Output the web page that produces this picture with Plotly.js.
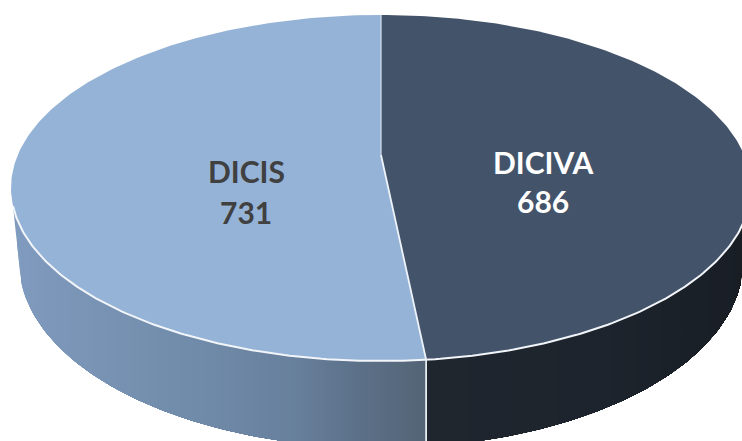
<!DOCTYPE html>
<html>
<head>
<meta charset="utf-8">
<script src="https://cdn.plot.ly/plotly-3.0.1.min.js"></script>
<style>html,body{margin:0;padding:0;background:#fff;overflow:hidden}#chart{width:742px;height:441px}</style>
</head>
<body>
<div id="chart"></div>
<script>
const categories = ["DICIVA", "DICIS"];
const values = [686, 731];
const faceColors = ["#43536A", "#95B3D7"];
const labelColors = ["#FFFFFF", "#404040"];
const labelX = [543, 246];
const labelY = [[162, 201], [171, 212]];
// side shading stops: [screen x, [r,g,b]]
const sideStops = [
  [[426,[32,38,46]],[600,[29,36,45]],[745,[25,30,37]]],
  [[10,[128,156,192]],[50,[124,151,185]],[200,[112,139,169]],[300,[103,127,155]],[360,[92,112,136]],[426,[84,100,118]]]
];

// projection of the disc
const top_ = {cx:381, cy:188, rx:370, ry:173};
const low_ = {cx:381, cy:262, rx:362, ry:186};
const pivot = {x:381, y:155, rayRy:168};
const rad = d => d*Math.PI/180;
const onEll = (e,phi) => [e.cx+e.rx*Math.sin(rad(phi)), e.cy-e.ry*Math.cos(rad(phi))];
const frontY = (e,x) => { const u=(x-e.cx)/e.rx; return e.cy+e.ry*Math.sqrt(Math.max(0,1-u*u)); };

// ellipse parameter reached by a ray from the pivot at the data angle
function rayPhi(theta){
  const dx = top_.rx*Math.sin(rad(theta)), dy = -pivot.rayRy*Math.cos(rad(theta));
  const ox = (pivot.x-top_.cx)/top_.rx, oy = (pivot.y-top_.cy)/top_.ry;
  const ux = dx/top_.rx, uy = dy/top_.ry;
  const a = ux*ux+uy*uy, b = 2*(ox*ux+oy*uy), c = ox*ox+oy*oy-1;
  const s = (-b+Math.sqrt(b*b-4*a*c))/(2*a);
  const px = ox+s*ux, py = oy+s*uy;
  return (Math.atan2(px,-py)*180/Math.PI+360)%360;
}
function shade(stops,x){
  if(x<=stops[0][0]) return stops[0][1];
  for(let i=1;i<stops.length;i++){
    if(x<=stops[i][0]){
      const f=(x-stops[i-1][0])/(stops[i][0]-stops[i-1][0]);
      return stops[i-1][1].map((v,k)=>v+(stops[i][1][k]-v)*f);
    }
  }
  return stops[stops.length-1][1];
}
const rgb = c => `rgb(${c.map(v=>Math.round(v)).join(",")})`;
const total = values.reduce((a,b)=>a+b,0);
const splitPhi = rayPhi(values[0]/total*360);
const base = {type:"scatter",mode:"lines",hoverinfo:"skip",showlegend:false};
const traces = [];

// silhouette of the side wall
const edgeL = [onEll(top_,264), onEll(low_,264)];
const edgeR = [onEll(top_,96), onEll(low_,96)];
function lowerY(x){
  if(x<edgeL[1][0]) return edgeL[0][1]+(edgeL[1][1]-edgeL[0][1])*(x-edgeL[0][0])/(edgeL[1][0]-edgeL[0][0]);
  if(x>edgeR[1][0]) return edgeR[0][1]+(edgeR[1][1]-edgeR[0][1])*(x-edgeR[0][0])/(edgeR[1][0]-edgeR[0][0]);
  return frontY(low_,x);
}
// each band runs to the far end and is overpainted by the next, so no seams show
function wall(x0,x1,step,stops){
  for(let s=x0;s<x1;s+=step){
    const xs=[],ys=[];
    const k=Math.max(2,Math.ceil((x1-s)/3));
    for(let j=0;j<=k;j++){const x=s+(x1-s)*j/k; xs.push(x); ys.push(frontY(top_,x)-3);}
    for(let j=k;j>=0;j--){const x=s+(x1-s)*j/k; xs.push(x); ys.push(lowerY(x));}
    const c=rgb(shade(stops,s+step/2));
    traces.push({...base,x:xs,y:ys,fill:"toself",fillcolor:c,line:{color:c,width:0}});
  }
}
const sp=onEll(top_,splitPhi);
wall(sp[0],edgeR[0][0],4,sideStops[0]);
wall(edgeL[0][0],sp[0],4,sideStops[1]);

// top faces
function arc(e,a,b,n){const o=[];for(let i=0;i<=n;i++)o.push(onEll(e,a+(b-a)*i/n));return o;}
const faces=[arc(top_,0,splitPhi,200),arc(top_,splitPhi,360,200)];
faces.forEach((pts,i)=>{
  const p=[[pivot.x,pivot.y],...pts,[pivot.x,pivot.y]];
  traces.push({...base,x:p.map(q=>q[0]),y:p.map(q=>q[1]),fill:"toself",fillcolor:faceColors[i],line:{color:faceColors[i],width:0}});
});

// white edges
const front=arc(top_,96,264,200);
traces.push({...base,x:front.map(p=>p[0]),y:front.map(p=>p[1]),line:{color:"#F2F5F9",width:2}});
const tp=onEll(top_,0);
traces.push({...base,x:[tp[0],pivot.x],y:[tp[1],pivot.y],line:{color:"#D5E0EE",width:1.2}});
traces.push({...base,x:[pivot.x,sp[0]],y:[pivot.y,sp[1]],line:{color:"#EEF3F9",width:1.8}});
traces.push({...base,x:[sp[0],sp[0]],y:[sp[1],lowerY(sp[0])],line:{color:"#E8EDF3",width:1.8}});

const annotations=[];
categories.forEach((c,i)=>{
  [c,String(values[i])].forEach((t,j)=>{
    annotations.push({x:labelX[i],y:labelY[i][j],xref:"x",yref:"y",text:"<b>"+t+"</b>",showarrow:false,
      xanchor:"center",yanchor:"middle",font:{family:"Lato, 'Open Sans', sans-serif",size:30,color:labelColors[i]}});
  });
});

Plotly.newPlot("chart",traces,{
  width:742,height:441,margin:{l:0,r:0,t:0,b:0},
  paper_bgcolor:"#fff",plot_bgcolor:"#fff",showlegend:false,
  xaxis:{range:[0,742],visible:false,fixedrange:true},
  yaxis:{range:[441,0],visible:false,fixedrange:true},
  annotations
},{displayModeBar:false,staticPlot:true});
</script>
</body>
</html>
